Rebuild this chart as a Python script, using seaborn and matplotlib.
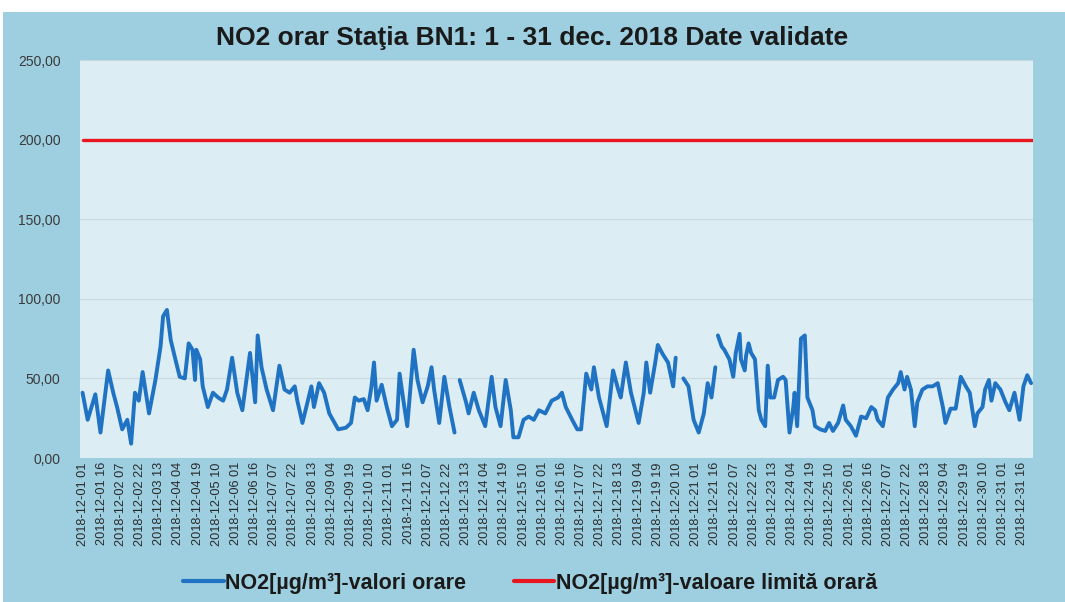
import numpy as np
import pandas as pd
import matplotlib
matplotlib.use("Agg")
import matplotlib.pyplot as plt
import seaborn as sns
from matplotlib.lines import Line2D
from matplotlib.patches import Rectangle

# ---------------- data ----------------
title = "NO2 orar Staţia BN1: 1 - 31 dec. 2018 Date validate"
series_label = "NO2[µg/m³]-valori orare"
limit_label = "NO2[µg/m³]-valoare limită orară"
limit_value = 200.0
start_time = "2018-12-01 01:00"
n_hours = 744

# hour offsets (from 2018-12-01 01) at which values were read; NaN = missing data
hours = [0, 4, 10, 14, 20, 24, 27, 31, 35, 38, 41, 44, 47, 52, 57, 61, 63, 66, 69, 72,
         76, 80, 83, 86, 88, 89, 92, 94, 98, 102, 106, 110, 113, 117, 121, 125, 131, 135, 137, 140,
         144, 149, 154, 158, 162, 166, 168, 172, 179, 181, 185, 189, 193, 200, 206, 210, 213, 216, 220, 223,
         226, 228, 230, 234, 238, 242, 246, 248, 251, 254, 257, 259, 262, 266, 270, 273, 275, 279, 283, 287,
         291, 293, 295, 300, 302, 306, 310, 315, 320, 323, 327, 331, 335, 337, 341, 345, 349, 353, 357, 362,
         367, 372, 375, 378, 383, 387, 390, 394, 398, 400, 404, 410, 415, 419, 421, 425, 429, 435, 439, 441,
         444, 448, 450, 454, 458, 462, 464, 467, 470, 474, 478, 482, 486, 489, 492, 495, 496, 497, 500, 502,
         506, 509, 511, 514, 515, 518, 519, 521, 523, 526, 529, 531, 534, 536, 538, 541, 544, 548, 550, 553,
         556, 557, 559, 562, 565, 567, 571, 573, 577, 581, 584, 587, 591, 595, 597, 601, 605, 609, 613, 617,
         620, 622, 626, 630, 634, 638, 640, 643, 645, 648, 651, 653, 657, 661, 665, 669, 673, 675, 679, 683,
         687, 691, 694, 698, 700, 704, 706, 709, 711, 714, 718, 722, 725, 729, 733, 736, 739, 742]

no2 = [41, 24, 40, 16, 55, 41, 32, 18, 24, 9, 41, 36, 54, 28, 49, 70, 89, 93, 74, 64,
       51, 50, 72, 68, 49, 68, 62, 45, 32, 41, 38, 36, 43, 63, 41, 30, 66, 35, 77, 57,
       43, 30, 58, 43, 41, 45, 36, 22, 45, 32, 47, 41, 28, 18, 19, 22, 38, 36, 37, 30,
       45, 60, 36, 46, 32, 20, 24, 53, 36, 20, 49, 68, 49, 35, 45, 57, 43, 22, 51, 32,
       16, np.nan, 49, 35, 28, 41, 30, 20, 51, 32, 20, 49, 30, 13, 13, 24, 26, 24, 30, 28,
       36, 38, 41, 32, 24, 18, 18, 53, 43, 57, 38, 20, 55, 43, 38, 60, 41, 22, 41, 60,
       41, 60, 71, 65, 60, 45, 63, np.nan, 50, 45, 24, 16, 28, 47, 38, 57, np.nan, 77, 70, 68,
       62, 51, 66, 78, 62, 55, 64, 72, 66, 62, 30, 24, 20, 58, 38, 38, 49, 51, 49, 16,
       32, 41, 20, 75, 77, 38, 30, 20, 18, 17, 22, 17, 22, 33, 24, 20, 14, 26, 25, 32,
       30, 24, 20, 38, 43, 47, 54, 43, 51, 43, 20, 35, 43, 45, 45, 47, 32, 22, 31, 31,
       51, 45, 41, 20, 28, 32, 43, 49, 36, 47, 43, 35, 30, 41, 24, 45, 52, 47]

y_ticks = [0, 50, 100, 150, 200, 250]
tick_hours = list(range(0, n_hours, 15))
tick_labels = [t.strftime("%Y-%m-%d %H") for t in
               pd.Timestamp(start_time) + pd.to_timedelta(tick_hours, unit="h")]

# ---------------- frame ----------------
df = pd.DataFrame({"hour": hours, "no2": no2})
df["seg"] = df["no2"].isna().cumsum()
df = df.dropna()
limit_df = pd.DataFrame({"hour": [0, n_hours - 1], "val": [limit_value, limit_value]})

sns.set_theme(style="white")
plt.rcParams["font.family"] = ["Liberation Sans", "DejaVu Sans"]

W, H = 1065, 602
fig = plt.figure(figsize=(W / 100, H / 100), dpi=100, facecolor="white")
fig.patches.append(Rectangle((3 / W, 0), 1, 1 - 12 / H, transform=fig.transFigure,
                             facecolor="#9ecfe0", edgecolor="none", zorder=-10))

ax = fig.add_axes([80 / W, 1 - 458 / H, (1033 - 80) / W, (458 - 60) / H])
ax.set_facecolor("#dcedf3")

sns.lineplot(data=df, x="hour", y="no2", units="seg", estimator=None,
             color="#1f73c2", linewidth=2.8, ax=ax, legend=False)
sns.lineplot(data=limit_df, x="hour", y="val", color="#e8161e",
             linewidth=2.4, ax=ax, legend=False)

ax.set_xlim(-2, n_hours - 0.5)
ax.set_ylim(0, 250)
ax.set_yticks(y_ticks)
ax.set_yticklabels([f"{v:.2f}".replace(".", ",") for v in y_ticks],
                   fontsize=10, color="#3a3a3a")
ax.set_xticks(tick_hours)
ax.set_xticklabels(tick_labels, rotation=90, fontsize=9.2, color="#2a2a2a")
ax.tick_params(axis="y", length=0, pad=14)
ax.tick_params(axis="x", length=0, pad=3)
ax.set_xlabel("")
ax.set_ylabel("")
for s in ax.spines.values():
    s.set_visible(False)
ax.yaxis.grid(True, color="#c9d9df", linewidth=0.8)
ax.set_axisbelow(True)

fig.text(0.5, 1 - 38 / H, title, ha="center", va="center",
         fontsize=19, fontweight="bold", color="#1a1a1a")

handles = [Line2D([], [], color="#1f73c2", lw=3.0),
           Line2D([], [], color="#e8161e", lw=3.0)]
fig.legend(handles, [series_label, limit_label], loc="center",
           bbox_to_anchor=(530 / W, 1 - 583 / H), ncol=2, frameon=False,
           prop={"weight": "bold", "size": 15.5}, handlelength=1.9,
           handletextpad=0.05, columnspacing=2.2, labelcolor="#1a1a1a")

fig.savefig("out.png", dpi=100, facecolor=fig.get_facecolor())
